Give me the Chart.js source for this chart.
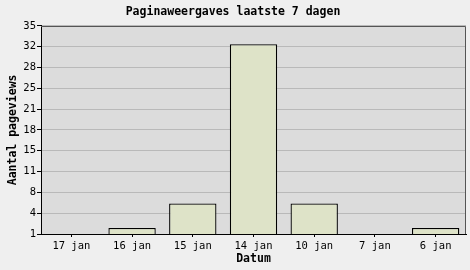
<!DOCTYPE html>
<html lang="nl">
<head>
  <meta charset="utf-8">
  <title>Paginaweergaves laatste 7 dagen</title>
  <script src="https://cdn.jsdelivr.net/npm/chart.js@4.4.1/dist/chart.umd.min.js"></script>
  <style>
    html, body { margin: 0; padding: 0; background: #efefef; }
    #wrap { width: 470px; height: 270px; }
  </style>
</head>
<body>
<div id="wrap"><canvas id="chart" width="470" height="270"></canvas></div>
<script>
// data
const categories = ['17 jan', '16 jan', '15 jan', '14 jan', '10 jan', '7 jan', '6 jan'];
const pageviews = [1, 2, 6, 32, 6, 1, 2];
const yTickLabels = [1, 4, 8, 11, 15, 18, 21, 25, 28, 32, 35];
const yMin = 1;
const yMax = 35;

const mono = '"DejaVu Sans Mono", "Liberation Mono", monospace';

// plot background + top/right frame
const frame = {
  id: 'frame',
  beforeDraw(chart) {
    const a = chart.chartArea, c = chart.ctx;
    c.save();
    c.fillStyle = '#efefef';
    c.fillRect(0, 0, chart.width, chart.height);
    c.fillStyle = '#dcdcdc';
    c.fillRect(a.left, a.top, a.right - a.left, a.bottom - a.top);
    c.restore();
  },
  afterDraw(chart) {
    const a = chart.chartArea, c = chart.ctx;
    c.save();
    c.strokeStyle = '#555';
    c.lineWidth = 1;
    c.beginPath();
    c.moveTo(a.left, Math.round(a.top) + 0.5);
    c.lineTo(Math.round(a.right) - 0.5, Math.round(a.top) + 0.5);
    c.lineTo(Math.round(a.right) - 0.5, a.bottom);
    c.stroke();
    c.restore();
  }
};

new Chart(document.getElementById('chart'), {
  type: 'bar',
  data: {
    labels: categories,
    datasets: [{
      data: pageviews,
      backgroundColor: '#dee3c8',
      borderColor: '#000',
      borderWidth: 1.3,
      categoryPercentage: 1,
      barPercentage: 0.78
    }]
  },
  options: {
    responsive: false,
    animation: false,
    layout: { padding: { right: 4, left: 0, top: 0, bottom: 0 } },
    plugins: {
      legend: { display: false },
      tooltip: { enabled: false },
      title: {
        display: true,
        text: 'Paginaweergaves laatste 7 dagen',
        color: '#000',
        font: { family: mono, size: 11.5, weight: 'bold', lineHeight: 1.2 },
        padding: { top: 5, bottom: 7 }
      }
    },
    scales: {
      x: {
        offset: true,
        grid: { display: true, offset: false, drawOnChartArea: false, drawTicks: true, tickLength: 3, tickColor: '#000' },
        border: { display: true, color: '#000', width: 1 },
        ticks: { color: '#000', font: { family: mono, size: 10.5 }, padding: 3, maxRotation: 0, autoSkip: false },
        title: {
          display: true, text: 'Datum', color: '#000',
          font: { family: mono, size: 11.5, weight: 'bold', lineHeight: 1.2 },
          padding: { top: 0, bottom: 4 }
        },
        afterFit(scale) { scale.height = 36; }
      },
      y: {
        min: yMin,
        max: yMax,
        afterBuildTicks(scale) {
          const n = yTickLabels.length - 1;
          scale.ticks = yTickLabels.map((_, i) => ({ value: yMin + i * (yMax - yMin) / n }));
        },
        grid: { color: '#b9b9b9', tickColor: '#000', tickLength: 4, drawTicks: true },
        border: { display: true, color: '#000', width: 1 },
        ticks: {
          color: '#000', font: { family: mono, size: 10.5 }, padding: 1,
          callback: (v, i) => yTickLabels[i]
        },
        title: {
          display: true, text: 'Aantal pageviews', color: '#000',
          font: { family: mono, size: 11.5, weight: 'bold', lineHeight: 1.2 },
          padding: { top: 6, bottom: 0 }
        },
        afterFit(scale) { scale.width = 41; }
      }
    }
  },
  plugins: [frame]
});
</script>
</body>
</html>
